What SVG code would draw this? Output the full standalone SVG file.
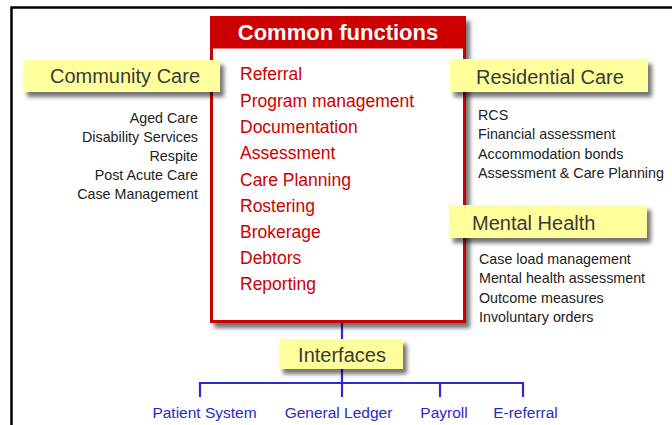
<svg xmlns="http://www.w3.org/2000/svg" width="672" height="425" viewBox="0 0 672 425">
<defs>
<filter id="sh" x="-10%" y="-20%" width="130%" height="160%">
<feGaussianBlur in="SourceAlpha" stdDeviation="2"/>
<feOffset dx="4" dy="5" result="b"/>
<feComponentTransfer><feFuncA type="linear" slope="0.55"/></feComponentTransfer>
<feMerge><feMergeNode/><feMergeNode in="SourceGraphic"/></feMerge>
</filter>
</defs>
<style>
text{font-family:"Liberation Sans",Arial,sans-serif}
.lab{fill:#ffff9c;filter:url(#sh)}
.labt{font-size:20px;fill:#3a3a3a}
.sub{font-size:14.3px;fill:#222}
.fn{font-size:17.5px;fill:#cc0000}
.con{stroke:#2a2ad8;stroke-width:2.2;fill:none}
.blue{font-size:15.5px;fill:#2a2acc;text-anchor:middle}
</style>
<rect width="672" height="425" fill="#ffffff"/>
<path d="M11.5 425 V7.5 H672" stroke="#000" stroke-width="2.5" fill="none"/>

<g id="connectors">
<line class="con" x1="342" y1="323" x2="342" y2="397"/>
<polyline class="con" points="200,397 200,383 523,383 523,397"/>
<line class="con" x1="440" y1="383" x2="440" y2="397"/>
</g>

<g id="common-functions">
<rect x="211.5" y="17.5" width="253" height="304" fill="#fff" stroke="#cc0000" stroke-width="3" filter="url(#sh)"/>
<rect x="211.5" y="17.5" width="253" height="31" fill="#cc0000"/>
<text x="338" y="40" font-size="22" font-weight="bold" fill="#fff" text-anchor="middle">Common functions</text>
<text class="fn" x="240" y="80">Referral</text>
<text class="fn" x="240" y="106.5">Program management</text>
<text class="fn" x="240" y="132.5">Documentation</text>
<text class="fn" x="240" y="159">Assessment</text>
<text class="fn" x="240" y="186">Care Planning</text>
<text class="fn" x="240" y="212">Rostering</text>
<text class="fn" x="240" y="238">Brokerage</text>
<text class="fn" x="240" y="264">Debtors</text>
<text class="fn" x="240" y="289.5">Reporting</text>
</g>

<g id="community-care">
<rect class="lab" x="23" y="60" width="197" height="32"/>
<text class="labt" x="125" y="83" text-anchor="middle">Community Care</text>
<g text-anchor="end">
<text class="sub" x="198" y="123">Aged Care</text>
<text class="sub" x="198" y="142">Disability Services</text>
<text class="sub" x="198" y="161">Respite</text>
<text class="sub" x="198" y="180">Post Acute Care</text>
<text class="sub" x="198" y="199">Case Management</text>
</g>
</g>

<g id="residential-care">
<rect class="lab" x="450" y="59" width="198" height="33"/>
<text class="labt" x="476" y="84">Residential Care</text>
<text class="sub" x="478" y="120">RCS</text>
<text class="sub" x="478" y="139">Financial assessment</text>
<text class="sub" x="478" y="158.5">Accommodation bonds</text>
<text class="sub" x="478" y="178">Assessment &amp; Care Planning</text>
</g>

<g id="mental-health">
<rect class="lab" x="449" y="205" width="198" height="33"/>
<text class="labt" x="472" y="230">Mental Health</text>
<text class="sub" x="479" y="264">Case load management</text>
<text class="sub" x="479" y="283">Mental health assessment</text>
<text class="sub" x="479" y="302.5">Outcome measures</text>
<text class="sub" x="479" y="321.5">Involuntary orders</text>
</g>

<g id="interfaces">
<rect class="lab" x="279" y="339" width="124" height="30"/>
<text class="labt" x="342" y="362" text-anchor="middle">Interfaces</text>
</g>

<g id="patient-system"><text class="blue" x="204.5" y="418">Patient System</text></g>
<g id="general-ledger"><text class="blue" x="338.5" y="418">General Ledger</text></g>
<g id="payroll"><text class="blue" x="444" y="418">Payroll</text></g>
<g id="e-referral"><text class="blue" x="525.5" y="418">E-referral</text></g>
</svg>
